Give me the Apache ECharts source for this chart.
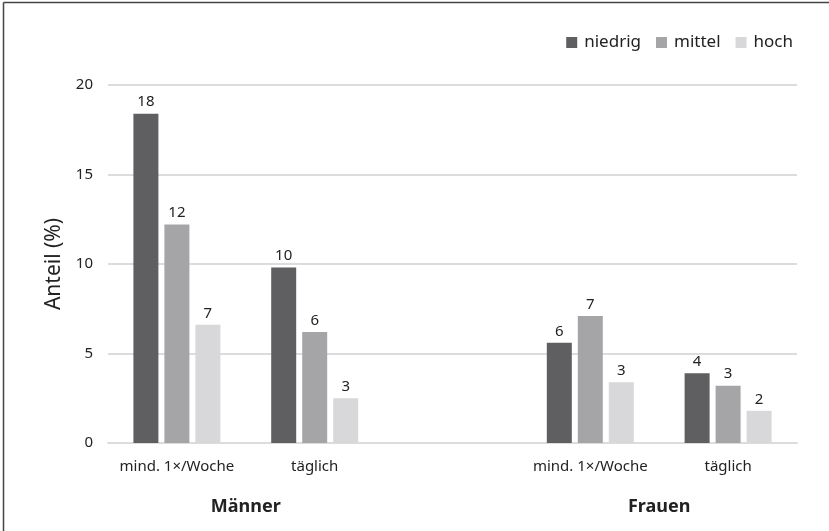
<!DOCTYPE html>
<html>
<head>
<meta charset="utf-8">
<script src="https://cdn.jsdelivr.net/npm/echarts@6/dist/echarts.min.js"></script>
<style>
  html, body { margin: 0; padding: 0; background: #ffffff; }
  #chart { width: 829px; height: 531px; }
</style>
</head>
<body>
<div id="chart"></div>
<script>
// Frequency categories per sex; the empty slot separates the two groups
const categories = ['mind. 1×/Woche', 'täglich', '', 'mind. 1×/Woche', 'täglich'];
const groupLabels = ['', 'Männer', '', '', 'Frauen', ''];
const seriesNames = ['niedrig', 'mittel', 'hoch'];

// Share in percent, per education level
const niedrig = [18.4, 9.8, null, 5.6, 3.9];
const mittel  = [12.2, 6.2, null, 7.1, 3.2];
const hoch    = [6.6, 2.5, null, 3.4, 1.8];

const yTicks = { min: 0, max: 20, interval: 5 };
const colors = ['#5f5f61', '#a5a5a7', '#d8d8da'];
const FONT = 'Noto Sans';

const chart = echarts.init(document.getElementById('chart'), null, { renderer: 'canvas' });

const makeSeries = (name, data, color) => ({
  name: name,
  type: 'bar',
  data: data,
  barWidth: 25,
  barGap: '24%',
  itemStyle: { color: color },
  label: {
    show: true,
    position: 'top',
    distance: 4,
    color: '#222',
    fontFamily: FONT,
    fontSize: 15,
    formatter: p => (p.value == null ? '' : Math.round(p.value))
  }
});

chart.setOption({
  backgroundColor: '#ffffff',
  animation: false,
  textStyle: { fontFamily: FONT },
  color: colors,
  legend: {
    data: seriesNames,
    right: 31,
    top: 29,
    itemWidth: 11,
    itemHeight: 11,
    itemGap: 15,
    icon: 'rect',
    textStyle: { color: '#222', fontSize: 17, fontFamily: FONT, padding: [0, 0, 0, 2] }
  },
  grid: { left: 108, right: 32, top: 85, bottom: 88, containLabel: false },
  xAxis: [
    {
      type: 'category',
      data: categories,
      axisLine: { show: true, lineStyle: { color: '#dcdcdc', width: 2 } },
      axisTick: { show: false },
      axisLabel: { color: '#222', fontSize: 15, fontFamily: FONT, margin: 16, interval: 0 }
    },
    {
      type: 'category',
      position: 'bottom',
      boundaryGap: false,
      data: groupLabels,
      axisLine: { show: false },
      axisTick: { show: false },
      axisLabel: { color: '#222', fontSize: 18, fontWeight: 'bold', fontFamily: FONT, margin: 55, interval: 0 }
    }
  ],
  yAxis: {
    type: 'value',
    min: yTicks.min,
    max: yTicks.max,
    interval: yTicks.interval,
    name: 'Anteil (%)',
    nameLocation: 'middle',
    nameGap: 43,
    nameTextStyle: { color: '#222', fontSize: 21, fontFamily: FONT },
    axisLine: { show: false },
    axisTick: { show: false },
    axisLabel: { color: '#222', fontSize: 15, fontFamily: FONT, margin: 15 },
    splitLine: { lineStyle: { color: '#dcdcdc', width: 2 } }
  },
  series: [
    makeSeries(seriesNames[0], niedrig, colors[0]),
    makeSeries(seriesNames[1], mittel, colors[1]),
    makeSeries(seriesNames[2], hoch, colors[2])
  ],
  graphic: [
    { type: 'line', shape: { x1: 3.5, y1: 2.5, x2: 829, y2: 2.5 }, style: { stroke: '#444', lineWidth: 1.5 } },
    { type: 'line', shape: { x1: 3.5, y1: 2.5, x2: 3.5, y2: 531 }, style: { stroke: '#444', lineWidth: 1.5 } }
  ]
});
</script>
</body>
</html>
